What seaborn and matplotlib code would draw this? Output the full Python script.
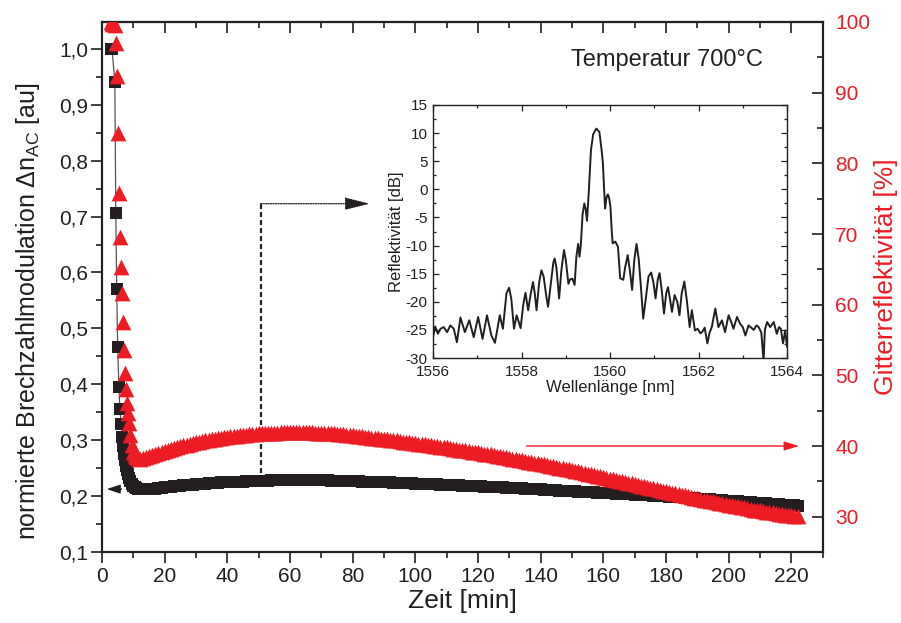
import matplotlib
matplotlib.use("Agg")
import matplotlib.pyplot as plt
from matplotlib.ticker import MultipleLocator
import numpy as np
import pandas as pd
import seaborn as sns

# ---------------- data ----------------
time_early = [2.8, 3.2, 4.1, 4.4, 4.7, 5.0, 5.4, 5.7, 6.1, 6.5, 6.8, 7.1, 7.4, 7.7, 8.0,
              8.3, 8.6, 9.0, 9.5, 10.0, 10.5, 11.0, 11.5]
dn_early = [1.00, 1.00, 0.94, 0.707, 0.571, 0.466, 0.395, 0.355, 0.329, 0.305, 0.290,
            0.276, 0.264, 0.254, 0.246, 0.239, 0.233, 0.227, 0.222, 0.218, 0.216, 0.214,
            0.213]
refl_early = [100.0, 99.7, 99.6, 97.0, 92.3, 84.3, 75.8, 69.6, 65.3, 61.7, 57.6, 53.6,
              50.4, 48.0, 46.1, 44.7, 43.3, 41.6, 40.2, 39.2, 38.7, 38.4, 38.25]

time_late = [12, 13, 14, 15, 16, 17, 18, 19, 20, 21, 22, 23, 24, 25, 26, 27, 28, 29, 30, 31,
             32, 33, 34, 35, 36, 37, 38, 39, 40, 41, 42, 43, 44, 45, 46, 47, 48, 49, 50, 51,
             52, 53, 54, 55, 56, 57, 58, 59, 60, 61, 62, 63, 64, 65, 66, 67, 68, 69, 70, 71,
             72, 73, 74, 75, 76, 77, 78, 79, 80, 81, 82, 83, 84, 85, 86, 87, 88, 89, 90, 91,
             92, 93, 94, 95, 96, 97, 98, 99, 100, 101, 102, 103, 104, 105, 106, 107, 108, 109,
             110, 111, 112, 113, 114, 115, 116, 117, 118, 119, 120, 121, 122, 123, 124, 125,
             126, 127, 128, 129, 130, 131, 132, 133, 134, 135, 136, 137, 138, 139, 140, 141,
             142, 143, 144, 145, 146, 147, 148, 149, 150, 151, 152, 153, 154, 155, 156, 157,
             158, 159, 160, 161, 162, 163, 164, 165, 166, 167, 168, 169, 170, 171, 172, 173,
             174, 175, 176, 177, 178, 179, 180, 181, 182, 183, 184, 185, 186, 187, 188, 189,
             190, 191, 192, 193, 194, 195, 196, 197, 198, 199, 200, 201, 202, 203, 204, 205,
             206, 207, 208, 209, 210, 211, 212, 213, 214, 215, 216, 217, 218, 219, 220, 221,
             222]

dn_late = [0.212, 0.212, 0.212, 0.2125, 0.213, 0.2135, 0.214, 0.215, 0.216, 0.2165,
           0.217, 0.2175, 0.218, 0.2185, 0.219, 0.2195, 0.220, 0.2205, 0.221, 0.2215,
           0.222, 0.2225, 0.223, 0.2235, 0.224, 0.224, 0.2245, 0.2245, 0.225, 0.225,
           0.2255, 0.2255, 0.226, 0.226, 0.2265, 0.2265, 0.227, 0.227, 0.227, 0.227,
           0.2275, 0.2275, 0.228, 0.228, 0.228, 0.228, 0.228, 0.228, 0.228, 0.228,
           0.228, 0.228, 0.228, 0.228, 0.228, 0.228, 0.228, 0.228, 0.228, 0.228,
           0.228, 0.2275, 0.2275, 0.2275, 0.227, 0.227, 0.227, 0.227, 0.227, 0.2265,
           0.2265, 0.226, 0.226, 0.226, 0.2255, 0.2255, 0.2255, 0.225, 0.225, 0.2248,
           0.2245, 0.2243, 0.224, 0.2238, 0.2235, 0.2233, 0.223, 0.2228, 0.2225, 0.2223,
           0.222, 0.2218, 0.2215, 0.2213, 0.221, 0.2208, 0.2205, 0.2203, 0.220, 0.2198,
           0.2195, 0.2192, 0.219, 0.2188, 0.2185, 0.2183, 0.218, 0.2178, 0.2175, 0.2172,
           0.217, 0.2168, 0.2165, 0.2163, 0.216, 0.2157, 0.2154, 0.2151, 0.2148, 0.2145,
           0.2142, 0.2139, 0.2136, 0.2133, 0.213, 0.2127, 0.2124, 0.2121, 0.2118, 0.2115,
           0.2112, 0.2109, 0.2106, 0.2103, 0.210, 0.2097, 0.2094, 0.2091, 0.2088, 0.2085,
           0.2082, 0.2079, 0.2076, 0.2073, 0.207, 0.2067, 0.2064, 0.2061, 0.2058, 0.2055,
           0.2052, 0.2049, 0.2046, 0.2043, 0.204, 0.2037, 0.2034, 0.2031, 0.2028, 0.2025,
           0.2022, 0.2019, 0.2016, 0.2013, 0.201, 0.2007, 0.2004, 0.200, 0.1996, 0.1992,
           0.1988, 0.1984, 0.198, 0.1976, 0.1972, 0.1968, 0.1964, 0.196, 0.1956, 0.1952,
           0.1948, 0.1944, 0.194, 0.1936, 0.1932, 0.1928, 0.1924, 0.192, 0.1916, 0.1912,
           0.1908, 0.1904, 0.190, 0.1896, 0.1892, 0.1888, 0.1884, 0.188, 0.1876, 0.1872,
           0.1868, 0.1864, 0.186, 0.1856, 0.1852, 0.1848, 0.1844, 0.184, 0.1836, 0.1832,
           0.1828]

refl_late = [38.2, 38.3, 38.4, 38.55, 38.7, 38.85, 39.0, 39.15, 39.3, 39.45,
             39.6, 39.7, 39.8, 39.95, 40.1, 40.2, 40.3, 40.4, 40.5, 40.6,
             40.7, 40.8, 40.9, 40.95, 41.0, 41.1, 41.2, 41.25, 41.3, 41.35,
             41.4, 41.45, 41.5, 41.55, 41.6, 41.65, 41.7, 41.75, 41.8, 41.8,
             41.8, 41.85, 41.9, 41.9, 41.9, 41.95, 42.0, 42.0, 42.0, 42.0,
             42.0, 42.0, 42.0, 42.0, 42.0, 41.95, 41.9, 41.9, 41.9, 41.85,
             41.8, 41.8, 41.8, 41.75, 41.7, 41.65, 41.6, 41.55, 41.5, 41.45,
             41.4, 41.35, 41.3, 41.25, 41.2, 41.15, 41.1, 41.05, 41.0, 40.95,
             40.9, 40.85, 40.8, 40.7, 40.6, 40.55, 40.5, 40.45, 40.4, 40.35,
             40.3, 40.25, 40.2, 40.1, 40.0, 39.95, 39.9, 39.85, 39.8, 39.7,
             39.6, 39.55, 39.5, 39.45, 39.4, 39.3, 39.2, 39.15, 39.1, 39.0,
             38.9, 38.85, 38.8, 38.7, 38.6, 38.55, 38.5, 38.4, 38.3, 38.2,
             38.1, 38.05, 38.0, 37.9, 37.8, 37.7, 37.6, 37.55, 37.5, 37.4,
             37.3, 37.2, 37.1, 37.0, 36.9, 36.85, 36.8, 36.7, 36.6, 36.5,
             36.4, 36.3, 36.2, 36.1, 36.0, 35.9, 35.8, 35.7, 35.6, 35.5,
             35.4, 35.3, 35.2, 35.1, 35.0, 34.9, 34.8, 34.7, 34.6, 34.5,
             34.4, 34.3, 34.2, 34.1, 34.0, 33.9, 33.8, 33.7, 33.6, 33.5,
             33.4, 33.3, 33.2, 33.1, 33.0, 32.9, 32.8, 32.7, 32.6, 32.5,
             32.4, 32.3, 32.2, 32.15, 32.1, 32.0, 31.9, 31.8, 31.7, 31.6,
             31.5, 31.45, 31.4, 31.3, 31.2, 31.1, 31.0, 30.95, 30.9, 30.8,
             30.7, 30.65, 30.6, 30.5, 30.4, 30.35, 30.3, 30.25, 30.2, 30.15,
             30.1]

wavelength_nm = [1556.00, 1556.05, 1556.11, 1556.17, 1556.24, 1556.32, 1556.39, 1556.47,
                 1556.54, 1556.62, 1556.72, 1556.82, 1556.92, 1557.02, 1557.12, 1557.22,
                 1557.32, 1557.40, 1557.51, 1557.58, 1557.66, 1557.72, 1557.77, 1557.83,
                 1557.89, 1557.98, 1558.04, 1558.09, 1558.15, 1558.21, 1558.26, 1558.30,
                 1558.34, 1558.40, 1558.45, 1558.50, 1558.56, 1558.60, 1558.66, 1558.72,
                 1558.75, 1558.79, 1558.85, 1558.90, 1558.96, 1559.00, 1559.06, 1559.10,
                 1559.15, 1559.20, 1559.24, 1559.28, 1559.31, 1559.34, 1559.38, 1559.42,
                 1559.45, 1559.48, 1559.52, 1559.57, 1559.62, 1559.69, 1559.76, 1559.81,
                 1559.84, 1559.87, 1559.89, 1559.92, 1559.95, 1559.98, 1560.01, 1560.04,
                 1560.06, 1560.12, 1560.18, 1560.23, 1560.30, 1560.34, 1560.40, 1560.45,
                 1560.50, 1560.55, 1560.60, 1560.65, 1560.70, 1560.75, 1560.80, 1560.87,
                 1560.93, 1560.98, 1561.03, 1561.08, 1561.12, 1561.17, 1561.22, 1561.27,
                 1561.31, 1561.36, 1561.40, 1561.46, 1561.52, 1561.57, 1561.62, 1561.68,
                 1561.74, 1561.80, 1561.85, 1561.92, 1561.98, 1562.04, 1562.08, 1562.14,
                 1562.20, 1562.25, 1562.30, 1562.38, 1562.45, 1562.53, 1562.60, 1562.68,
                 1562.74, 1562.79, 1562.87, 1562.94, 1563.00, 1563.06, 1563.13, 1563.19,
                 1563.25, 1563.31, 1563.36, 1563.42, 1563.47, 1563.50, 1563.55, 1563.62,
                 1563.70, 1563.77, 1563.82, 1563.86, 1563.91, 1563.96, 1564.00]

reflect_db = [-26.3, -24.4, -25.7, -24.8, -24.5, -25.4, -24.2, -24.8,
              -27.2, -22.8, -25.4, -23.3, -26.3, -22.7, -26.6, -22.4,
              -26.0, -27.3, -22.4, -24.8, -18.5, -17.5, -19.5, -24.8,
              -22.4, -24.7, -20.5, -18.4, -21.5, -18.5, -16.5, -18.5,
              -21.5, -16.5, -14.4, -15.5, -19.0, -20.9, -17.0, -13.0,
              -12.3, -14.0, -19.4, -14.5, -10.8, -12.5, -16.8, -16.0,
              -15.9, -17.0, -12.0, -9.7, -12.0, -10.0, -4.5, -2.5,
              -3.5, -5.6, -0.5, 7.0, 9.8, 10.8, 10.2, 7.0,
              4.6, -0.5, -3.4, -1.5, -0.9, -1.5, -3.1, -7.5,
              -9.6, -9.3, -10.2, -15.8, -16.1, -14.0, -11.7, -14.5,
              -17.9, -12.5, -9.7, -12.5, -17.5, -23.0, -20.0, -15.5,
              -14.8, -16.5, -19.4, -16.0, -14.9, -18.0, -22.1, -18.5,
              -17.4, -19.7, -21.8, -18.8, -20.0, -22.4, -18.5, -16.4,
              -20.0, -24.5, -21.5, -25.1, -24.8, -25.6, -25.4, -24.6,
              -27.4, -25.5, -24.5, -21.2, -24.5, -23.3, -25.4, -22.4,
              -23.6, -24.8, -22.7, -23.9, -24.5, -26.0, -24.2, -24.6,
              -25.0, -24.2, -24.5, -25.5, -30.5, -25.0, -23.6, -24.5,
              -23.6, -25.7, -24.5, -24.8, -27.4, -25.1, -28.0]

x_ticks = [0, 20, 40, 60, 80, 100, 120, 140, 160, 180, 200, 220]
x_labels = ["0", "20", "40", "60", "80", "100", "120", "140", "160", "180", "200", "220"]
left_ticks = [0.1, 0.2, 0.3, 0.4, 0.5, 0.6, 0.7, 0.8, 0.9, 1.0]
left_labels = ["0,1", "0,2", "0,3", "0,4", "0,5", "0,6", "0,7", "0,8", "0,9", "1,0"]
right_ticks = [30, 40, 50, 60, 70, 80, 90, 100]
right_labels = ["30", "40", "50", "60", "70", "80", "90", "100"]
inset_x_ticks = [1556, 1558, 1560, 1562, 1564]
inset_y_ticks = [-30, -25, -20, -15, -10, -5, 0, 5, 10, 15]

# ---------------- style ----------------
sns.set_style("ticks")
plt.rcParams["font.family"] = ["Liberation Sans", "DejaVu Sans"]
plt.rcParams["mathtext.fontset"] = "custom"
plt.rcParams["mathtext.rm"] = "Liberation Sans"
plt.rcParams["mathtext.default"] = "regular"

BLACK = "#231f20"
RED = "#ed1c24"
TXT = "#231f20"

fig = plt.figure(figsize=(9.01, 6.23), dpi=100)
ax = fig.add_axes([102 / 901, 1 - 552 / 623, (822.7 - 102) / 901, (552 - 22) / 623])
ax2 = ax.twinx()

df = pd.DataFrame({"t": time_early + time_late,
                   "dn": dn_early + dn_late,
                   "R": refl_early + refl_late})

sns.lineplot(data=df, x="t", y="dn", ax=ax, color="#555555", lw=0.9,
             estimator=None, sort=False, zorder=2)
sns.scatterplot(data=df, x="t", y="dn", ax=ax, marker="s", s=74, color=BLACK,
                linewidth=0, zorder=3)
sns.scatterplot(data=df, x="t", y="R", ax=ax2, marker="^", s=128, color=RED,
                linewidth=0, zorder=3)

ax.set_xlim(0, 230)
ax.set_ylim(0.1, 1.048)
ax2.set_ylim(25, 100)

ax.set_xticks(x_ticks)
ax.set_xticklabels(x_labels)
ax.xaxis.set_minor_locator(MultipleLocator(10))
ax.set_yticks(left_ticks)
ax.set_yticklabels(left_labels)
ax.yaxis.set_minor_locator(MultipleLocator(0.05))
ax2.set_yticks(right_ticks)
ax2.set_yticklabels(right_labels)
ax2.yaxis.set_minor_locator(MultipleLocator(5))

for a in (ax, ax2):
    for sp in a.spines.values():
        sp.set_linewidth(1.5)
        sp.set_color(BLACK)
        sp.set_visible(True)

ax.tick_params(axis="x", which="both", direction="out", top=False, width=1.2,
               color=BLACK, labelsize=15, labelcolor=TXT, pad=3)
ax.tick_params(axis="y", which="both", direction="out", right=False, width=1.2,
               color=BLACK, labelsize=15, labelcolor=TXT, pad=2)
ax.tick_params(which="major", length=8)
ax.tick_params(which="minor", length=4.5)
ax2.tick_params(axis="y", which="both", direction="in", width=1.2, color=BLACK,
                labelsize=15, labelcolor=RED, pad=9)
ax2.tick_params(axis="y", which="major", length=8)
ax2.tick_params(axis="y", which="minor", length=4.5)

sec = ax.secondary_xaxis("top")
sec.set_xticks(x_ticks)
sec.xaxis.set_minor_locator(MultipleLocator(10))
sec.tick_params(axis="x", which="both", direction="in", labeltop=False, width=1.2, color=BLACK)
sec.tick_params(which="major", length=8)
sec.tick_params(which="minor", length=4.5)
sec.spines["top"].set_linewidth(1.5)

ax.set_xlabel("Zeit [min]", fontsize=19, color=TXT, labelpad=2)
ax.set_ylabel("normierte Brechzahlmodulation $\\Delta$n$_{AC}$ [au]", fontsize=18,
              color=TXT)
ax.yaxis.set_label_coords(-0.083, 0.455)
ax2.set_ylabel("Gitterreflektivität [%]", fontsize=19, color=RED)
ax2.yaxis.set_label_coords(1.071, 0.52)

# annotations
fig.text(667 / 901, 1 - 60 / 623, "Temperatur 700°C", fontsize=17, color=TXT,
         ha="center", va="center")

ax.plot([50.6, 50.6], [0.227, 0.723], ls=(0, (2.2, 1.4)), lw=1.6, color=BLACK, zorder=2.5)
ax.annotate("", xy=(85.5, 0.723), xytext=(50.6, 0.723),
            arrowprops=dict(arrowstyle="-|>,head_length=1.2,head_width=0.3", ls=(0, (1, 1)),
                            lw=0.9, color=BLACK, shrinkA=0, shrinkB=0, mutation_scale=13))
ax.annotate("", xy=(1.5, 0.2125), xytext=(6.2, 0.2125),
            arrowprops=dict(arrowstyle="-|>,head_length=0.9,head_width=0.3", lw=1.0,
                            color=BLACK, shrinkA=0, shrinkB=0, mutation_scale=9))
ax2.annotate("", xy=(222.5, 40), xytext=(135.5, 40),
             arrowprops=dict(arrowstyle="-|>,head_length=1.0,head_width=0.3", lw=1.0,
                             color=RED, shrinkA=0, shrinkB=0, mutation_scale=9))

# ---------------- inset ----------------
axin = fig.add_axes([433 / 901, 1 - 358 / 623, (787 - 433) / 901, (358 - 105) / 623])
dspec = pd.DataFrame({"wl": wavelength_nm, "db": reflect_db})
sns.lineplot(data=dspec, x="wl", y="db", ax=axin, color=BLACK, lw=1.4,
             estimator=None, sort=False)
axin.set_xlim(1556, 1564)
axin.set_ylim(-30, 15)
axin.set_xticks(inset_x_ticks)
axin.set_xticklabels([str(v) for v in inset_x_ticks])
axin.set_yticks(inset_y_ticks)
axin.set_yticklabels([str(v) for v in inset_y_ticks])
axin.xaxis.set_minor_locator(MultipleLocator(1))
axin.yaxis.set_minor_locator(MultipleLocator(2.5))
axin.tick_params(which="both", direction="in", top=True, right=True, width=0.9,
                 color=BLACK, labelsize=11, labelcolor=TXT)
axin.tick_params(axis="x", pad=5)
axin.tick_params(axis="y", pad=4)
axin.tick_params(which="major", length=4.5)
axin.tick_params(which="minor", length=2.5)
for sp in axin.spines.values():
    sp.set_linewidth(1.0)
    sp.set_color(BLACK)
axin.set_xlabel("Wellenlänge [nm]", fontsize=12, color=TXT, labelpad=1)
axin.set_ylabel("Reflektivität [dB]", fontsize=12, color=TXT, labelpad=1)

fig.savefig("out.png", dpi=100)
